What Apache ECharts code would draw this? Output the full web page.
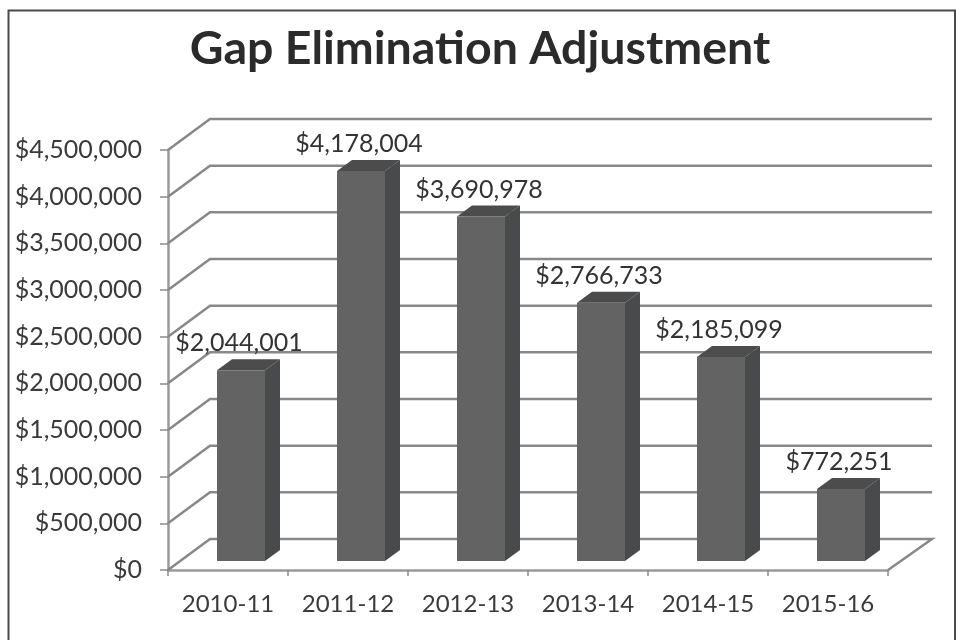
<!DOCTYPE html>
<html><head><meta charset="utf-8">
<style>html,body{margin:0;padding:0;background:#fff}#c{width:956px;height:640px;filter:blur(0.45px)}</style>
<script src="https://cdn.jsdelivr.net/npm/echarts@6/dist/echarts.min.js"></script>
</head><body><div id="c"></div>
<script>
const categories = ['2010-11','2011-12','2012-13','2013-14','2014-15','2015-16'];
const values = [2044001,4178004,3690978,2766733,2185099,772251];
const axisTicks = [0,500000,1000000,1500000,2000000,2500000,3000000,3500000,4000000,4500000];
const titleText = 'Gap Elimination Adjustment';

const money = v => '$' + Number(v).toLocaleString('en-US');
const wallDx = 42, wallDy = -31, wallRightExtra = 2;
const barW = 48, barOffX = 13, barOffY = -9, depthX = 15, depthY = -11;
const gridColor = '#888888';
const chart = echarts.init(document.getElementById('c'));
chart.setOption({
  animation:false,
  backgroundColor:'#fff',
  title:{text:titleText,left:475,textAlign:'center',top:20,textStyle:{fontFamily:'Lato',fontWeight:'bold',fontSize:46.5,color:'#2b2b2b'}},
  graphic:[{type:'polyline',silent:true,shape:{points:[[8.5,645],[8.5,10.5],[955,10.5],[955,645]]},style:{stroke:'#4a4a4a',lineWidth:2,fill:null}}],
  grid:{left:168,top:150,width:720,height:420},
  xAxis:{type:'category',data:categories,
    axisLine:{lineStyle:{color:'#9a9a9a',width:2.5}},
    axisTick:{show:true,interval:0,length:6,lineStyle:{color:'#8a8a8a',width:1.5}},
    axisLabel:{interval:0,margin:22,fontFamily:'Lato',fontSize:24,color:'#3a3a3a'}},
  yAxis:{type:'value',min:0,max:4500000,interval:500000,
    axisLine:{show:true,lineStyle:{color:'#9a9a9a',width:2.5}},
    axisTick:{show:true,length:8,lineStyle:{color:'#8a8a8a',width:1.5}},
    splitLine:{show:false},
    axisLabel:{margin:26,fontFamily:'Lato',fontSize:25,color:'#3a3a3a',formatter:money}},
  series:[
   {type:'custom',z:1,silent:true,coordinateSystem:'cartesian2d',data:axisTicks.map(v=>[0,v]),
    encode:{x:0,y:1},clip:false,
    renderItem(params,api){
      const r=params.coordSys, y=api.coord([0,api.value(1)])[1], st={stroke:gridColor,lineWidth:2.5,fill:null};
      const pts=[[r.x,y],[r.x+wallDx,y+wallDy],[r.x+r.width+wallDx+wallRightExtra,y+wallDy]];
      if(api.value(1)===0) pts.push([r.x+r.width,y]);
      return {type:'polyline',shape:{points:pts},style:st};
    }},
   {type:'custom',z:2,silent:true,coordinateSystem:'cartesian2d',data:values.map((v,i)=>[i,v]),
    encode:{x:0,y:1},clip:false,
    renderItem(params,api){
      const top=api.coord([api.value(0),api.value(1)]), base=api.coord([api.value(0),0]);
      const l=top[0]+barOffX-barW/2, r=l+barW, t=top[1]+barOffY, b=base[1]+barOffY;
      return {type:'group',children:[
        {type:'polygon',shape:{points:[[r,t],[r+depthX,t+depthY],[r+depthX,b+depthY],[r,b]]},style:{fill:'#484a4b'}},
        {type:'polygon',shape:{points:[[l,t],[l+depthX,t+depthY],[r+depthX,t+depthY],[r,t]]},style:{fill:'#4c4c4c'}},
        {type:'rect',shape:{x:l,y:t,width:barW,height:b-t},style:{fill:'#636364'}},
        {type:'text',style:{text:money(api.value(1)),x:(l+r)/2-2,y:t+depthY-16,align:'center',verticalAlign:'middle',
          fontFamily:'Lato',fontSize:25,fill:'#333'}}
      ]};
    }}
  ]
});
</script></body></html>
